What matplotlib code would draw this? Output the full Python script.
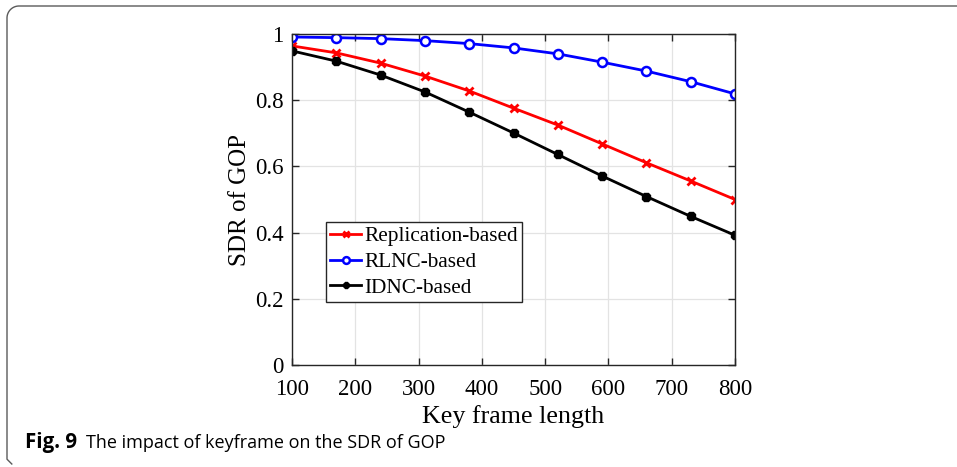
import numpy as np
import matplotlib
matplotlib.use('Agg')
import matplotlib.pyplot as plt
from matplotlib.lines import Line2D


# data
key_len = [100, 170, 240, 310, 380, 450, 520, 590, 660, 730, 800]
sdr_repl = [0.964, 0.943, 0.912, 0.873, 0.828, 0.776, 0.725, 0.668, 0.611, 0.556, 0.500]
sdr_rlnc = [0.991, 0.989, 0.986, 0.980, 0.971, 0.958, 0.940, 0.915, 0.888, 0.856, 0.819]
sdr_idnc = [0.949, 0.918, 0.876, 0.825, 0.764, 0.701, 0.636, 0.571, 0.509, 0.449, 0.392]

x_ticks = [100, 200, 300, 400, 500, 600, 700, 800]
y_ticks = [0, 0.2, 0.4, 0.6, 0.8, 1]
y_tick_labels = ['0', '0.2', '0.4', '0.6', '0.8', '1']

serif = 'Liberation Serif'
W, H = 957, 467

fig = plt.figure(figsize=(W/100, H/100), dpi=100)
fig.patch.set_facecolor('w')

# rounded frame of the figure panel (top and left side only, runs off the right edge)
r = 12.
t = np.linspace(0, np.pi/2, 20)
fx = np.concatenate([[7 + r*0.4, 7], 7 + r - r*np.cos(t), [W + 5]])
fy = np.concatenate([[3, 3 + r*0.4], (H - 6) - r + r*np.sin(t), [H - 6]])
frame = Line2D(fx/W, fy/H, transform=fig.transFigure, color='#5a5a5a', lw=1.0)
fig.add_artist(frame)

axs = fig.add_axes([292/W, (H-365)/H, 443/W, 331/H])

axs.plot(key_len, sdr_repl, '-x', color='#ff0000', lw=2, ms=6, mew=2,
         label='Replication-based')
axs.plot(key_len, sdr_rlnc, '-o', color='#0000ff', lw=2, ms=6.5, mew=1.8,
         mfc='w', label='RLNC-based')
axs.plot(key_len, sdr_idnc, '-8', color='k', lw=2, ms=7, mew=1,
         label='IDNC-based')

axs.set_xlim(100, 800)
axs.set_ylim(0, 1)
axs.set_xticks(x_ticks)
axs.set_yticks(y_ticks)
axs.set_yticklabels(y_tick_labels)
axs.grid(True, color='#e3e3e3', lw=0.9)
axs.set_axisbelow(True)

axs.tick_params(direction='in', length=5, width=1, top=True, right=True,
                labelsize=16.5, colors='#262626', labelcolor='k')
axs.tick_params(axis='x', pad=10)
axs.tick_params(axis='y', pad=6)
for lbl in axs.get_xticklabels() + axs.get_yticklabels():
    lbl.set_fontfamily(serif)
for sp in axs.spines.values():
    sp.set_color('#262626')
    sp.set_linewidth(1)

axs.set_xlabel('Key frame length', fontsize=18.7, family=serif, labelpad=4)
axs.set_ylabel('SDR of GOP', fontsize=18, family=serif, labelpad=3)

leg = axs.legend(loc='upper left', bbox_to_anchor=(34/443, (365-222)/331),
                 prop={'family': serif, 'size': 15.3}, fancybox=False,
                 edgecolor='#262626', framealpha=1, borderpad=0.2,
                 handlelength=1.45, handletextpad=0.15, labelspacing=0.28,
                 borderaxespad=0, markerscale=0.75)
leg.get_frame().set_linewidth(1)

# caption
fig.text(25/W, (H-448)/H, 'Fig. 9', family='Open Sans', weight='bold',
         fontsize=14.8, va='baseline')
fig.text(86/W, (H-448)/H, 'The impact of keyframe on the SDR of GOP',
         family='Open Sans', fontsize=13, va='baseline')

fig.savefig('out.png', dpi=100, facecolor='w')
plt.close()
